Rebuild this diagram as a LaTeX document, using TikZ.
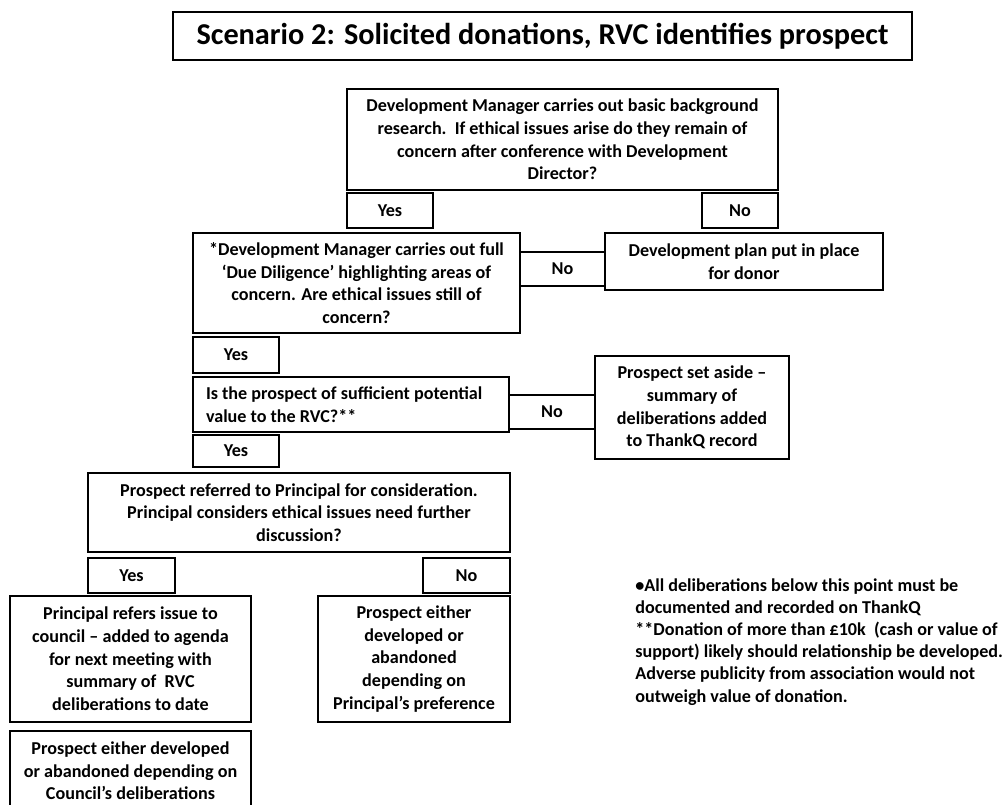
\documentclass[tikz,border=0pt]{standalone}
\usepackage{fontspec}
\setmainfont{Carlito}
\begin{document}
\begin{tikzpicture}[x=0.75pt,y=-0.75pt,
  box/.style={draw,line width=1.2pt,inner sep=0pt,align=center,font=\bfseries\fontsize{13.6}{17}\selectfont},
  sz/.style 2 args={minimum width=#1*0.75pt,minimum height=#2*0.75pt},
  lbl/.style={inner sep=0pt,minimum height=34*0.75pt,font=\bfseries\fontsize{13.6}{17}\selectfont}]
\useasboundingbox (0,0) rectangle (1005,805);
\node[box,sz={739}{48},font=\bfseries\fontsize{22.7}{26}\selectfont] (title) at (542.5,36) {Scenario 2: Solicited donations, RVC identifies prospect};
\node[box,sz={431}{101}] (research) at (562.5,139.5) {Development Manager carries out basic background\\research.\ \ If ethical issues arise do they remain of\\concern after conference with Development\\Director?};
\node[box,sz={86}{35}] (yes1) at (390,210.5) {Yes};
\node[box,sz={76}{35}] (no1) at (740,210.5) {No};
\node[box,sz={327}{100}] (diligence) at (356.5,283) {*Development Manager carries out full\\‘Due Diligence’ highlighting areas of\\concern. Are ethical issues still of\\concern?};
\node[box,sz={278}{57}] (plan) at (744,261.5) {Development plan put in place\\for donor};
\node[lbl] (no2) at (562.5,269) {No};
\draw[line width=1.2pt] (diligence.east |- no2.north) -- (plan.west |- no2.north)
  (diligence.east |- no2.south) -- (plan.west |- no2.south);
\node[box,sz={86}{36}] (yes2) at (236,355) {Yes};
\node[box,sz={316}{55},align=flush left,text width=290*0.75pt,inner xsep=13*0.75pt] (value) at (351,404.5) {Is the prospect of sufficient potential\\value to the RVC?**};
\node[box,sz={194}{103}] (aside) at (692,407.5) {Prospect set aside –\\summary of\\deliberations added\\to ThankQ record};
\node[lbl] (no3) at (552,412) {No};
\draw[line width=1.2pt] (value.east |- no3.north) -- (aside.west |- no3.north)
  (value.east |- no3.south) -- (aside.west |- no3.south);
\node[box,sz={86}{32}] (yes3) at (236,451) {Yes};
\node[box,sz={422}{79}] (principal) at (299,512.5) {Prospect referred to Principal for consideration.\\Principal considers ethical issues need further\\discussion?};
\node[box,sz={87}{35}] (yes4) at (131.5,575.5) {Yes};
\node[box,sz={87}{35}] (no4) at (466.5,575.5) {No};
\node[box,sz={241}{126}] (council) at (130.5,659) {Principal refers issue to\\council – added to agenda\\for next meeting with\\summary of\ \ RVC\\deliberations to date};
\node[box,sz={241}{80}] (outcomeC) at (130.5,771) {Prospect either developed\\or abandoned depending on\\Council’s deliberations};
\node[box,sz={192}{126}] (outcomeP) at (414,659) {Prospect either\\developed or\\abandoned\\depending on\\Principal’s preference};
\node[anchor=north west,inner sep=0pt,align=flush left,font=\bfseries\fontsize{13.6}{16.65}\selectfont] (notes) at (635,578) {•All deliberations below this point must be\\documented and recorded on ThankQ\\**Donation of more than £10k\ \ (cash or value of\\support) likely should relationship be developed.\\Adverse publicity from association would not\\outweigh value of donation.};
\end{tikzpicture}
\end{document}
